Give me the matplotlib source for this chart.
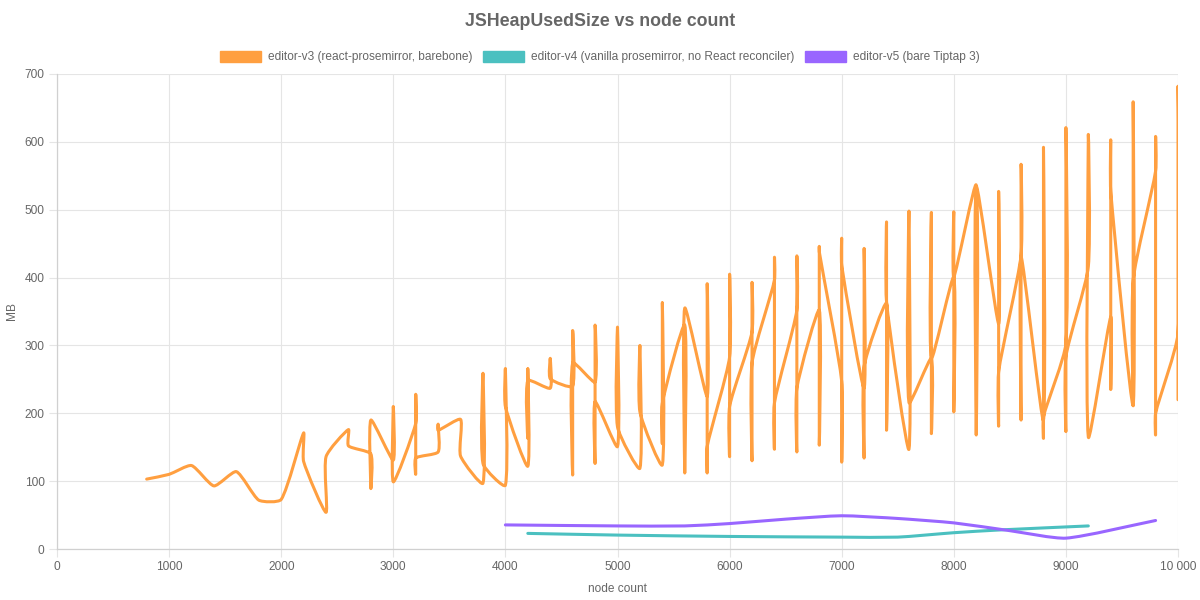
import matplotlib
matplotlib.use("Agg")
import matplotlib.pyplot as plt
from matplotlib.patches import Patch, PathPatch
from matplotlib.path import Path

plt.rcParams['font.family'] = ['Liberation Sans', 'DejaVu Sans']

# editor-v3: several samples per node count, drawn in recorded order
v3_nodes = [800, 1000, 1200, 1400, 1600, 1800, 2000, 2200, 2400, 2600,
            2800, 3000, 3200, 3400, 3600, 3800, 4000, 4200, 4400, 4600,
            4800, 5000, 5200, 5400, 5600, 5800, 6000, 6200, 6400, 6600,
            6800, 7000, 7200, 7400, 7600, 7800, 8000, 8200, 8400, 8600,
            8800, 9000, 9200, 9400, 9600, 9800, 10000]
v3_heap = [[103], [110], [123], [93], [114], [72], [73], [171, 129], [54, 136], [176, 152],
           [140, 89, 190], [131, 210, 99], [185, 228, 110, 134], [143, 184, 175], [191, 137],
           [97, 259, 126], [94, 266, 210], [122, 265, 163, 248], [237, 281, 251],
           [240, 322, 109, 274], [246, 330, 126, 217], [151, 327, 180], [119, 300, 202],
           [124, 362, 155, 215], [330, 112, 355], [225, 391, 112, 151], [283, 405, 136, 210],
           [320, 393, 130, 274], [396, 430, 147, 215], [352, 432, 143, 237],
           [352, 153, 446, 438], [247, 128, 458, 418], [237, 443, 134, 269],
           [362, 175, 482, 364], [147, 498, 216], [281, 170, 496, 281], [401, 202, 497, 401],
           [536, 168, 534], [332, 527, 181, 261], [433, 567, 190, 431], [190, 592, 163, 195],
           [303, 621, 173, 283], [416, 611, 165], [342, 235, 603, 527], [212, 659, 211, 396],
           [557, 608, 168, 200], [318, 682, 220]]

v4_nodes = [4200, 5000, 6000, 7000, 7500, 8000, 8400, 9200]
v4_heap = [23, 20.5, 18.5, 17.5, 17.5, 24, 28, 34]

v5_nodes = [4000, 5000, 5600, 6000, 6500, 7000, 7500, 8000, 8500, 9000, 9800]
v5_heap = [35.5, 34, 34, 37.5, 44, 49, 45, 38.5, 27, 16, 42]

labels = ["editor-v3 (react-prosemirror, barebone)",
          "editor-v4 (vanilla prosemirror, no React reconciler)",
          "editor-v5 (bare Tiptap 3)"]
colors = ["#ff9f40", "#4bc0c0", "#9966ff"]

x_ticks = list(range(0, 10001, 1000))
x_tick_labels = ["0", "1000", "2000", "3000", "4000", "5000", "6000", "7000", "8000", "9000", "10 000"]
y_ticks = list(range(0, 701, 100))

tension = 0.2


def spline_path(ax, xs, ys):
    # cubic bezier through the points, like a chart.js line with tension
    pts = ax.transData.transform(list(zip(xs, ys)))
    n = len(pts)
    verts = [tuple(pts[0])]
    codes = [Path.MOVETO]
    ctrl = []
    for i in range(n):
        p = pts[max(i - 1, 0)]
        c = pts[i]
        nx = pts[min(i + 1, n - 1)]
        d01 = ((c[0] - p[0]) ** 2 + (c[1] - p[1]) ** 2) ** 0.5
        d12 = ((nx[0] - c[0]) ** 2 + (nx[1] - c[1]) ** 2) ** 0.5
        tot = d01 + d12
        s01 = d01 / tot if tot > 0 else 0
        s12 = d12 / tot if tot > 0 else 0
        fa = tension * s01
        fb = tension * s12
        prev_c = (c[0] - fa * (nx[0] - p[0]), c[1] - fa * (nx[1] - p[1]))
        next_c = (c[0] + fb * (nx[0] - p[0]), c[1] + fb * (nx[1] - p[1]))
        ctrl.append((prev_c, next_c))
    for i in range(1, n):
        verts += [ctrl[i - 1][1], ctrl[i][0], tuple(pts[i])]
        codes += [Path.CURVE4] * 3
    inv = ax.transData.inverted()
    return Path(inv.transform(verts), codes)


# flatten the v3 groups into a point sequence
v3_x = []
v3_y = []
for n, vals in zip(v3_nodes, v3_heap):
    for v in vals:
        v3_x.append(n)
        v3_y.append(v)

fig = plt.figure(figsize=(12, 6), dpi=100)
ax = fig.add_axes([57 / 1200, 51 / 600, 1121 / 1200, 475 / 600])

ax.set_xlim(0, 10000)
ax.set_ylim(0, 700)

series = [(v3_x, v3_y), (v4_nodes, v4_heap), (v5_nodes, v5_heap)]
for (xs, ys), c in zip(series, colors):
    path = spline_path(ax, xs, ys)
    ax.add_patch(PathPatch(path, facecolor="none", edgecolor=c, linewidth=2.2,
                           joinstyle="round", capstyle="round", clip_on=True))

ax.set_xticks(x_ticks)
ax.set_xticklabels(x_tick_labels)
ax.set_yticks(y_ticks)
ax.grid(True, color="#e5e5e5", linewidth=0.8)
ax.set_axisbelow(True)
for s in ["top", "right"]:
    ax.spines[s].set_visible(False)
for s in ["left", "bottom"]:
    ax.spines[s].set_color("#d0d0d0")
    ax.spines[s].set_linewidth(0.9)
ax.tick_params(length=6, color="#e5e5e5", labelcolor="#666666", labelsize=8.6, pad=3)

fig.text(0.5, 1 - 21 / 600, "JSHeapUsedSize vs node count", ha="center", va="center",
         fontsize=12.8, fontweight="bold", color="#666666")
fig.text((57 + 1178) / 2 / 1200, 1 - 589 / 600, "node count", ha="center", va="center",
         fontsize=8.6, color="#666666")
fig.text(12 / 1200, 1 - 311 / 600, "MB", ha="center", va="center", rotation=90,
         fontsize=8.6, color="#666666")

handles = [Patch(facecolor=c, edgecolor=c) for c in colors]
fig.legend(handles, labels, loc="center", bbox_to_anchor=(0.5, 1 - 57 / 600), ncol=3,
           frameon=False, fontsize=8.6, handlelength=3.4, handleheight=1.1,
           handletextpad=0.6, columnspacing=0.9, labelcolor="#666666")

fig.savefig("out.png", dpi=100)
